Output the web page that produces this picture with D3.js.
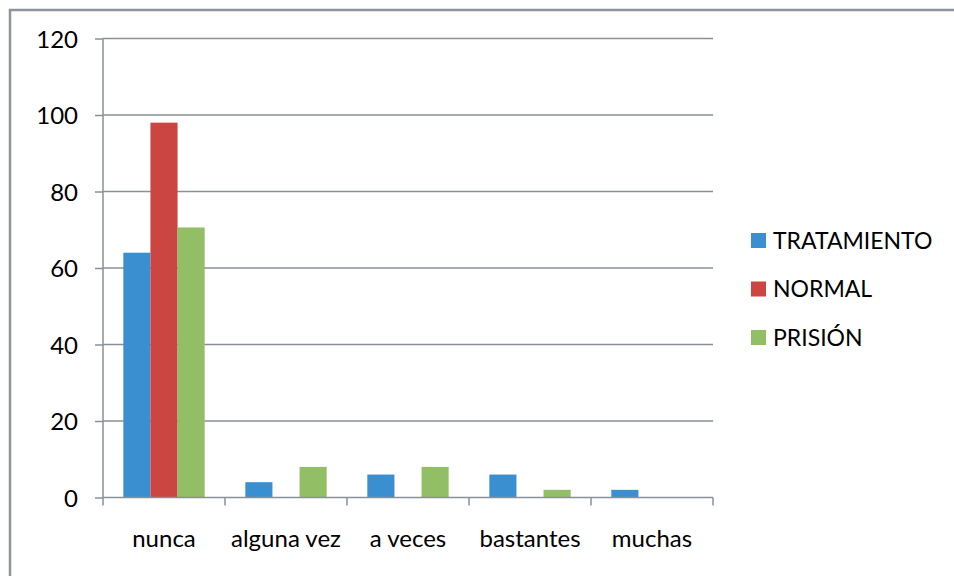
<!DOCTYPE html>
<html>
<head>
<meta charset="utf-8">
<script src="https://cdn.jsdelivr.net/npm/d3@7"></script>
<style>
  html, body { margin: 0; padding: 0; background: #fff; }
  svg { display: block; }
  text { font-family: Lato, "Open Sans", sans-serif; fill: #000; }
</style>
</head>
<body>
<svg id="chart" width="954" height="576"></svg>
<script>
// Categories, series and axis ticks
const categories = ["nunca", "alguna vez", "a veces", "bastantes", "muchas"];
const seriesNames = ["TRATAMIENTO", "NORMAL", "PRISIÓN"];
const seriesColors = ["#3a8fd0", "#cb4541", "#92bf66"];
const tratamiento = [64, 4, 6, 6, 2];
const normal = [98, 0, 0, 0, 0];
const prision = [70.6, 8, 8, 2, 0];
const yTicks = [0, 20, 40, 60, 80, 100, 120];

const seriesValues = [tratamiento, normal, prision];

const svg = d3.select("#chart");
const W = 954, H = 576;
const plot = { left: 103, right: 713, top: 38.5, bottom: 497.5 };
const axisColor = "#8a9097";

// Outer chart frame (continues past the bottom/right edges)
svg.append("rect")
  .attr("x", 10).attr("y", 10)
  .attr("width", W + 20).attr("height", H + 20)
  .attr("fill", "none")
  .attr("stroke", "#8e949b")
  .attr("stroke-width", 2.5);

const x = d3.scaleBand()
  .domain(categories)
  .range([plot.left, plot.right])
  .paddingInner(0).paddingOuter(0);

const bandW = x.bandwidth();
const barW = bandW / 4.5; // gap width 150%
const xs = d3.scaleBand()
  .domain(seriesNames)
  .range([0, barW * 3]);

const y = d3.scaleLinear()
  .domain([0, 120])
  .range([plot.bottom, plot.top]);

// Horizontal gridlines
svg.append("g")
  .selectAll("line")
  .data(yTicks.filter(t => t > 0))
  .join("line")
  .attr("x1", plot.left).attr("x2", plot.right)
  .attr("y1", d => y(d)).attr("y2", d => y(d))
  .attr("stroke", axisColor)
  .attr("stroke-width", 1.5);

// Bars
const groups = svg.append("g")
  .selectAll("g")
  .data(seriesNames)
  .join("g")
  .attr("fill", (d, i) => seriesColors[i]);

groups.each(function (name, si) {
  d3.select(this).selectAll("rect")
    .data(seriesValues[si].map((v, ci) => ({ v, c: categories[ci] })))
    .join("rect")
    .filter(d => d.v > 0)
    .attr("x", d => x(d.c) + (bandW - barW * 3) / 2 + xs(name))
    .attr("y", d => y(d.v))
    .attr("width", barW)
    .attr("height", d => y(0) - y(d.v));
});

// Y axis
const yAxis = d3.axisLeft(y)
  .tickValues(yTicks)
  .tickSize(8)
  .tickPadding(17)
  .tickFormat(d3.format("d"));

const gy = svg.append("g")
  .attr("transform", `translate(${plot.left},0)`)
  .call(yAxis);
gy.select(".domain").attr("stroke", axisColor).attr("stroke-width", 1.5)
  .attr("d", `M0,${plot.top}V${plot.bottom}`);
gy.selectAll(".tick line").attr("stroke", axisColor).attr("stroke-width", 1.5);
gy.selectAll(".tick text")
  .attr("font-family", "Lato, 'Open Sans', sans-serif")
  .attr("font-size", 24)
  .attr("fill", "#000")
  .attr("dy", "0.36em");

// X axis: tick marks on category boundaries
const gx = svg.append("g");
gx.append("line")
  .attr("x1", plot.left).attr("x2", plot.right)
  .attr("y1", plot.bottom).attr("y2", plot.bottom)
  .attr("stroke", axisColor).attr("stroke-width", 1.5);
const bounds = categories.map(c => x(c)).concat([x(categories[categories.length - 1]) + bandW]);
gx.selectAll("line.tk")
  .data(bounds)
  .join("line")
  .attr("class", "tk")
  .attr("x1", d => d).attr("x2", d => d)
  .attr("y1", plot.bottom).attr("y2", plot.bottom + 8)
  .attr("stroke", axisColor).attr("stroke-width", 1.5);
gx.selectAll("text")
  .data(categories)
  .join("text")
  .attr("x", d => x(d) + bandW / 2)
  .attr("y", 547)
  .attr("text-anchor", "middle")
  .attr("font-size", 24)
  .text(d => d);

// Legend
const legend = svg.append("g")
  .selectAll("g")
  .data(seriesNames)
  .join("g")
  .attr("transform", (d, i) => `translate(751,${233 + i * 48.5})`);
legend.append("rect")
  .attr("width", 15).attr("height", 15)
  .attr("fill", (d, i) => seriesColors[i]);
legend.append("text")
  .attr("x", 22)
  .attr("y", 15.5)
  .attr("font-size", 23)
  .text(d => d);
</script>
</body>
</html>
